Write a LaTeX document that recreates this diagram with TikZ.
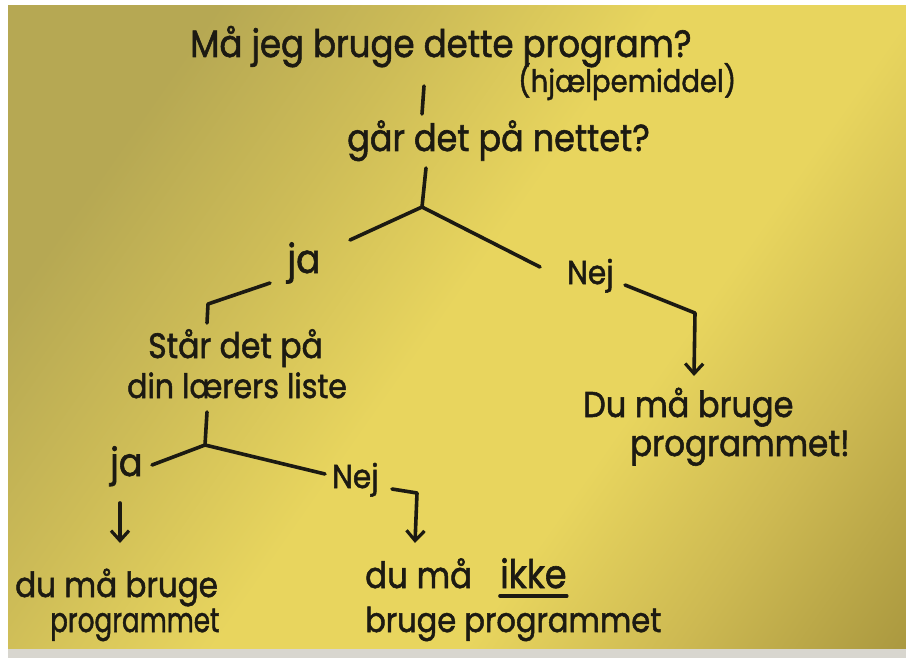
\documentclass[tikz,border=0pt]{standalone}
\usepackage{fontspec}
\setmainfont{Poppins}
\newfontfamily\hand{Poppins}[FakeBold=1.6]
\usetikzlibrary{arrows.meta}
\newcommand{\tall}[1]{\scalebox{1}[1.12]{#1}}
\newcommand{\narrowtall}[1]{\scalebox{0.86}[1.12]{#1}}
\definecolor{ink}{HTML}{1C1A12}
\definecolor{noteTL}{HTML}{B6A853}
\definecolor{noteMidA}{HTML}{CDBC57}
\definecolor{noteIn}{HTML}{E8D55E}
\definecolor{noteMidB}{HTML}{CDB952}
\definecolor{noteBR}{HTML}{AA983F}
\definecolor{deskGray}{HTML}{D8D6CF}
\pgfdeclarehorizontalshading{notepaper}{100bp}{color(0bp)=(noteTL); color(26bp)=(noteTL); color(37bp)=(noteMidA); color(49bp)=(noteIn); color(62bp)=(noteIn); color(73bp)=(noteMidB); color(85bp)=(noteBR); color(100bp)=(noteBR)}
\tikzset{
  hw/.style={font=\hand\fontsize{#1}{#1}\selectfont, text=ink, inner sep=0pt, anchor=base west},
  hw/.default=30,
  inkline/.style={draw=ink, line width=3.6pt, line cap=round, line join=round},
  inkarrow/.style={inkline, -{Straight Barb[length=10pt,width=18pt,line width=3.2pt]}}
}
\begin{document}
\begin{tikzpicture}[x=1pt,y=-1pt]
\useasboundingbox (0,0) rectangle (906,658);
% paper and desk
\fill[white] (0,0) rectangle (906,658);
\shade[shading=notepaper, shading angle=-35] (8,6) rectangle (906,649);
\fill[deskGray] (8,649) rectangle (906,658);

% texts
\node[hw=34] (t1) at (190,57) {\tall{Må jeg bruge dette program?}};
\node[hw=27.5] (t1b) at (518,92) {\tall{(hjælpemiddel)}};
\node[hw=33.5] (q1) at (347,151) {\tall{går det på nettet?}};
\node[hw=36] (j1) at (287,273) {\tall{ja}};
\node[hw=29.5] (n1) at (567,284) {\tall{Nej}};
\node[hw=31.5] (q2a) at (148,358) {\tall{Står det på}};
\node[hw=30] (q2b) at (127,398) {\tall{din lærers liste}};
\node[hw=35] (j2) at (110,476) {\tall{ja}};
\node[hw=29.5] (n2) at (332,488) {\tall{Nej}};
\node[hw=31] (r1a) at (15,597) {\tall{du må bruge}};
\node[hw=30.5] (r1b) at (50,632) {\narrowtall{programmet}};
\node[hw=32.5] (r2a) at (365,588) {\tall{du må}};
\node[hw=35] (ikke) at (500,588) {\tall{ikke}};
\node[hw=30.5] (r2b) at (365,632) {\tall{bruge programmet}};
\node[hw=32] (r3a) at (583,417) {\tall{Du må bruge}};
\node[hw=32.5] (r3b) at (630,456) {\tall{programmet!}};

% connector points
\coordinate (a1) at (424,86);
\coordinate (a2) at (422,114);
\coordinate (b1) at (426,168);
\coordinate (k1) at (422,207);
\coordinate (k1l) at (350,240);
\coordinate (k1r) at (540,267);
\coordinate (c1) at (270,283);
\coordinate (c2) at (208,304);
\coordinate (c3) at (207,323);
\coordinate (d1) at (207,412);
\coordinate (k2) at (205,445);
\coordinate (k2l) at (152,465);
\coordinate (k2r) at (325,474);
\coordinate (e1) at (120,503);
\coordinate (e2) at (120,543);
\coordinate (f1) at (392,489);
\coordinate (f2) at (417,493);
\coordinate (f3) at (415,543);
\coordinate (g1) at (625,285);
\coordinate (g2) at (695,313);
\coordinate (g3) at (694,376);

% connectors
\draw[inkline] (a1) -- (a2);
\draw[inkline] (b1) -- (k1);
\draw[inkline] (k1) -- (k1l);
\draw[inkline] (k1) -- (k1r);
\draw[inkline] (c1) -- (c2) -- (c3);
\draw[inkline] (d1) -- (k2);
\draw[inkline] (k2) -- (k2l);
\draw[inkline] (k2) -- (k2r);
\draw[inkarrow] (e1) -- (e2);
\draw[inkarrow] (f1) -- (f2) -- (f3);
\draw[inkarrow] (g1) -- (g2) -- (g3);
% underline of "ikke"
\draw[inkline] ([yshift=-8pt]ikke.base west) -- ([yshift=-8pt]ikke.base east);
\end{tikzpicture}
\end{document}
